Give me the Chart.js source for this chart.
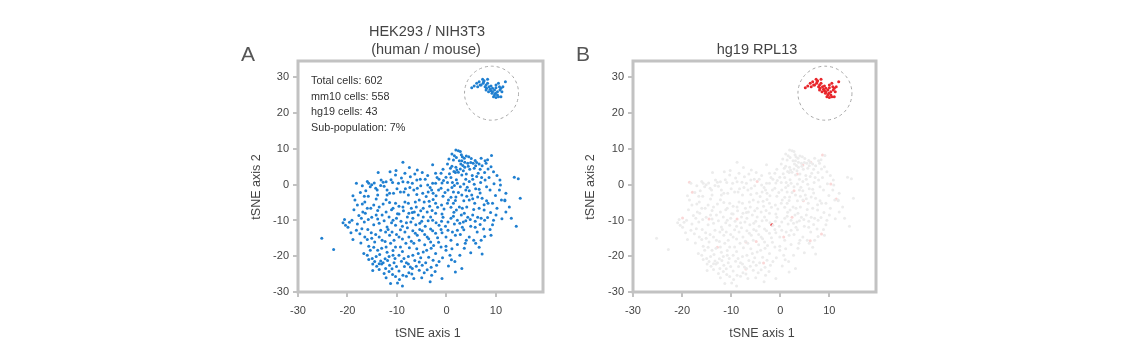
<!DOCTYPE html>
<html>
<head>
<meta charset="utf-8">
<script src="https://cdn.jsdelivr.net/npm/chart.js@4.4.1/dist/chart.umd.min.js"></script>
<style>
  html, body { margin:0; padding:0; background:#fff; width:1140px; height:355px; overflow:hidden; }
  body { position:relative; font-family:"Liberation Sans", Arial, Helvetica, sans-serif; color:#444; }
  canvas { position:absolute; top:0; }
  .t { position:absolute; white-space:nowrap; }
  .title { font-size:14.5px; line-height:18px; text-align:center; width:300px; color:#444; }
  .letter { font-size:21px; line-height:24px; color:#555; }
  .info { font-size:10.8px; line-height:15.6px; color:#333; }
  .axt { font-size:12.5px; line-height:16px; text-align:center; width:120px; color:#444; }
  .rot { transform: rotate(-90deg); transform-origin: 50% 50%; }
</style>
</head>
<body>
<canvas id="cA" width="330" height="355" style="left:230px"></canvas>
<canvas id="cB" width="330" height="355" style="left:565px"></canvas>

<div class="t letter" style="left:241px; top:42px;">A</div>
<div class="t letter" style="left:576px; top:42px;">B</div>
<div class="t title" id="titleA1" style="left:277px; top:22px;"></div>
<div class="t title" id="titleA2" style="left:276px; top:40px;"></div>
<div class="t title" id="titleB" style="left:607px; top:40px;"></div>
<div class="t info" id="infoBox" style="left:311px; top:73px;"></div>
<div class="t axt" id="axA1" style="left:368px; top:325px;"></div>
<div class="t axt" id="axB1" style="left:702px; top:325px;"></div>
<div class="t axt rot" id="axA2" style="left:196px; top:179px;"></div>
<div class="t axt rot" id="axB2" style="left:530px; top:179px;"></div>

<script>
// ---------------- DATA ----------------
const xTickValues = [-30, -20, -10, 0, 10];
const yTickValues = [-30, -20, -10, 0, 10, 20, 30];
const infoLines = ["Total cells: 602", "mm10 cells: 558", "hg19 cells: 43", "Sub-population: 7%"];
const panelTitleA = ["HEK293 / NIH3T3", "(human / mouse)"];
const panelTitleB = "hg19 RPL13";
const axisTitles = ["tSNE axis 1", "tSNE axis 2"];

// mouse (mm10) cells, tSNE coordinates [axis1, axis2]
const mm10Cells = [
 [1.9,9.7],[2.4,9.5],[2.8,9.3],[1.1,8.6],[1.6,8.1],[3.2,7.8],[4.5,7.8],[3.6,7.4],[9.1,8.2],[-8.8,6.3],
 [2.6,6.7],[3.1,6.7],[3.7,6.3],[4.3,6.0],[2.9,5.8],[3.3,5.4],[4.9,6.2],[5.4,6.0],[6.1,6.2],[6.6,5.8],
 [7.8,6.7],[8.0,6.0],[0.2,5.8],[1.1,5.2],[1.9,4.9],[2.1,4.1],[-2.8,5.6],[-5.9,4.1],[-13.8,3.4],[-11.4,3.6],
 [-10.3,2.7],[-8.4,3.2],[1.8,3.4],[2.4,3.5],[3.7,4.9],[4.7,4.3],[5.6,4.6],[6.8,4.3],[9.0,5.0],[6.4,3.2],
 [7.7,3.4],[4.0,3.0],[5.2,2.6],[3.1,2.7],[-0.7,4.3],[-1.1,3.2],[-2.2,3.2],[-0.1,2.1],[0.9,2.0],[3.9,1.5],
 [5.3,1.5],[7.8,1.3],[8.6,2.0],[10.8,1.3],[10.9,-0.1],[13.7,2.1],[14.5,1.7],
 [-18.2,0.4],[-15.7,0.4],[-15.1,0.0],[-15.4,-0.6],[-12.8,0.7],[-12.2,0.8],[-12.6,-0.4],[-14.3,-1.0],[-14.0,-1.5],[-12.0,-1.5],
 [-10.9,0.6],[-9.7,0.4],[-8.8,0.8],[-7.8,0.7],[-6.9,0.4],[-6.0,1.3],[-5.3,1.5],[-4.3,1.5],[-3.8,-0.1],[-2.8,0.4],
 [-2.2,0.4],[-1.5,1.5],[0.2,0.6],[1.2,0.6],[2.2,0.4],[2.8,-0.6],[1.1,-0.8],[0.3,-1.5],[1.4,-2.0],[2.4,-2.2],
 [3.9,-1.5],[4.6,-1.7],[5.9,-1.1],[6.6,-1.3],[8.8,-1.5],[10.7,-1.5],[12.0,-2.4],[11.8,-4.3],[12.7,-6.2],[14.9,-3.8],
 [13.1,-9.4],[14.1,-11.6],
 [-18.9,-3.1],[-17.4,-2.2],[-16.6,-3.2],[-15.8,-3.2],[-13.9,-2.9],[-12.0,-2.9],[-11.5,-2.4],[-10.7,-2.4],[-9.3,-2.0],[-8.6,-2.0],
 [-7.7,-2.9],[-6.6,-1.5],[-5.9,-1.0],[-4.8,-2.4],[-3.7,-2.0],[-3.0,-1.5],[-2.7,-2.4],[-1.6,-1.5],[-1.1,-1.0],[-0.7,-3.2],
 [0.9,-3.5],[1.9,-3.4],[3.1,-2.9],[4.1,-3.2],[5.1,-2.9],[6.3,-3.4],[7.2,-3.8],[8.1,-4.5],[8.4,-5.2],[9.3,-5.2],
 [11.1,-4.3],[11.8,-4.5],
 [-18.0,-5.7],[-17.0,-5.4],[-16.0,-6.6],[-15.3,-6.6],[-14.7,-5.7],[-13.6,-6.2],[-12.8,-5.4],[-11.5,-5.0],[-10.3,-5.2],[-9.6,-6.0],
 [-8.4,-4.8],[-7.7,-5.2],[-7.1,-6.6],[-6.3,-4.8],[-5.5,-4.3],[-4.5,-4.8],[-3.5,-4.6],[-2.7,-4.1],[-2.2,-5.2],[-1.0,-5.7],
 [0.2,-5.2],[1.4,-5.2],[2.6,-6.2],[3.2,-6.6],[4.1,-6.2],[4.6,-4.3],[5.7,-5.2],[6.6,-6.6],[7.6,-7.1],[8.9,-7.8],
 [10.0,-8.5],[9.5,-9.9],[7.7,-9.9],[7.0,-9.4],
 [-20.9,-10.6],[-20.4,-11.3],[-19.9,-11.9],[-19.1,-9.9],[-18.9,-15.3],[-18.2,-12.7],[-17.2,-9.4],[-16.4,-8.0],[-15.8,-9.7],[-15.1,-9.1],
 [-14.2,-8.5],[-13.6,-10.8],[-13.0,-8.5],[-12.2,-7.6],[-11.6,-9.0],[-10.8,-9.9],[-10.3,-11.3],[-9.6,-8.2],[-8.7,-7.3],[-7.9,-9.0],
 [-7.2,-10.4],[-6.5,-7.6],[-5.7,-8.5],[-5.4,-10.8],[-4.7,-9.0],[-3.9,-7.6],[-3.2,-9.0],[-2.8,-9.9],[-2.2,-8.0],[-1.5,-11.3],
 [-0.7,-9.1],[0.3,-10.4],[1.4,-8.8],[2.2,-9.9],[3.0,-8.5],[3.4,-10.4],[4.3,-9.1],[5.3,-8.5],[6.3,-9.1],[5.8,-11.9],
 [4.9,-11.6],[3.2,-11.9],[2.2,-12.7],[1.2,-13.2],[0.9,-15.5],[-0.1,-14.6],[-1.1,-12.5],[-2.2,-13.6],
 [-15.9,-12.5],[-15.1,-15.0],[-14.3,-13.9],[-13.3,-12.7],[-12.3,-13.2],[-13.0,-15.5],[-11.5,-14.1],[-10.6,-15.5],[-9.6,-14.6],[-8.4,-13.2],
 [-7.6,-14.6],[-6.8,-12.9],[-5.9,-14.1],[-4.9,-12.9],[-3.9,-14.6],[-3.2,-16.0],[-5.5,-15.5],[-6.6,-16.4],[-8.2,-16.4],[-9.3,-17.4],
 [-10.3,-17.4],[-11.3,-16.4],[-12.2,-17.4],[-13.1,-17.8],[-13.9,-18.3],[-14.7,-17.5],[-15.7,-17.2],[-16.0,-15.3],[-16.5,-14.6],
 [-16.7,-19.2],[-16.0,-19.7],[-15.0,-20.6],[-14.2,-20.1],[-13.3,-21.3],[-12.4,-20.7],[-11.6,-20.1],[-10.8,-19.7],[-9.6,-19.7],[-8.6,-20.6],
 [-7.7,-20.1],[-6.8,-19.7],[-5.7,-19.2],[-4.7,-18.8],[-4.0,-18.3],[-3.1,-17.8],[-2.2,-19.2],[-1.1,-17.4],[-0.1,-17.2],[0.7,-19.7],
 [1.7,-21.5],[2.7,-19.7],[3.6,-17.8],[3.8,-16.4],[4.9,-19.0],[5.9,-16.4],[7.0,-15.5],[7.2,-19.4],[9.0,-14.1],[8.8,-12.5],
 [5.5,-15.5],[4.6,-14.6],
 [-15.7,-20.9],[-14.9,-22.2],[-14.1,-22.8],[-13.1,-22.2],[-12.3,-23.4],[-11.5,-22.5],[-10.6,-21.8],[-10.1,-22.9],[-9.6,-24.1],[-8.5,-22.9],
 [-7.7,-22.2],[-6.9,-23.4],[-6.1,-22.8],[-4.9,-22.5],[-4.2,-21.8],[-3.1,-23.1],[-1.5,-21.5],[3.1,-23.4],
 [-13.6,-23.7],[-11.6,-24.3],[-10.3,-25.7],[-8.8,-25.3],[-7.6,-24.6],[-6.6,-26.2],[-5.5,-23.9],[-4.5,-24.6],[-3.0,-25.3],[-3.3,-27.1],
 [-0.9,-26.2],[-11.3,-27.6],[-8.9,-28.3],[-0.1,-18.3],
 [-25.2,-15.0],[-22.8,-18.1],
 // second reading pass (denser regions)
 [0.5,7.2],[1.4,6.9],[2.0,7.6],[3.0,8.4],[4.0,8.0],[5.0,7.3],[5.8,6.8],[7.0,7.4],[8.3,7.0],[0.8,4.6],
 [1.5,3.7],[2.8,4.4],[3.4,3.9],[4.4,5.2],[5.9,5.3],[7.2,5.3],[8.4,4.4],[9.5,3.6],[6.1,2.3],[7.1,2.0],
 [4.6,0.9],[2.0,1.4],[0.6,3.1],[-0.6,1.2],[1.6,-0.2],[3.5,0.2],[5.6,0.1],[6.9,0.6],[8.1,-0.6],[9.6,0.3],
 [10.2,2.6],[4.2,-0.7],
 [-9.1,1.9],[-7.3,2.2],[-6.4,3.0],[-4.9,3.4],[-3.8,2.6],[-1.9,2.0],[-0.9,0.5],[-3.3,-0.8],[-5.2,-0.3],[-7.4,-0.8],
 [-8.3,-1.1],[-10.0,-1.1],[-11.2,1.4],[-13.3,-0.2],[-16.3,-1.7],[-17.0,-0.3],[-6.0,-2.7],[-4.1,-3.3],[-2.1,-3.1],[-0.3,-2.2],
 [0.4,-4.3],[1.8,-4.4],[3.5,-4.5],[5.3,-3.9],[6.8,-2.3],[7.6,-5.6],[9.9,-3.0],[10.2,-6.6],[5.5,-6.9],[2.0,-7.1],
 [0.9,-6.3],[-0.5,-6.8],[-1.8,-6.3],[-3.4,-6.0],[-4.7,-6.6],[-6.1,-6.2],[-8.8,-6.2],[-10.8,-6.6],[-12.2,-4.2],[-14.2,-4.0],
 [-16.5,-4.8],[-11.1,-7.0],[-13.9,-7.2],[-16.9,-7.6],[-18.7,-7.0],
 [-19.6,-10.5],[-18.0,-11.0],[-17.1,-12.3],[-16.6,-10.4],[-14.7,-11.2],[-13.9,-9.6],[-12.6,-10.1],[-12.0,-11.8],[-11.1,-10.6],[-10.1,-9.4],
 [-9.2,-10.2],[-8.9,-11.6],[-8.1,-10.6],[-7.6,-8.0],[-6.8,-9.4],[-6.2,-11.2],[-5.0,-10.2],[-4.3,-11.6],[-3.7,-10.1],[-3.2,-12.4],
 [-2.1,-10.6],[-1.0,-10.2],[-0.2,-11.6],[0.9,-9.4],[1.6,-11.0],[2.7,-10.8],[3.9,-10.1],[4.8,-9.7],[5.8,-10.2],[6.8,-11.1],
 [7.5,-12.4],[8.3,-9.2],[9.3,-11.2],[11.2,-9.5],[12.0,-7.6],[3.6,-8.0],[1.5,-7.7],[-0.9,-8.2],[-2.9,-7.2],[-5.2,-7.3],
 [-6.9,-7.8],[-9.9,-8.1],
 [-17.5,-13.7],[-17.3,-16.3],[-15.2,-13.4],[-14.5,-16.0],[-13.6,-14.6],[-12.4,-15.9],[-11.8,-12.5],[-11.0,-13.2],[-10.1,-13.9],[-9.3,-12.6],
 [-8.9,-15.2],[-7.9,-12.0],[-7.1,-15.8],[-6.3,-13.6],[-5.4,-12.5],[-4.4,-13.9],[-3.6,-15.1],[-2.8,-12.9],[-1.8,-14.8],[-0.9,-13.4],
 [0.3,-12.7],[1.8,-14.1],[2.8,-13.9],[3.5,-12.6],[4.0,-15.5],[6.2,-13.2],[7.7,-14.5],[6.6,-17.5],[2.2,-16.7],[1.1,-17.9],
 [-1.6,-16.1],[-2.6,-17.0],[-4.4,-16.8],[-6.0,-17.9],[-7.5,-17.6],[-8.9,-18.7],[-10.8,-18.4],[-12.0,-18.9],[-13.5,-19.5],[-15.4,-18.3],
 [-14.5,-21.5],[-13.6,-22.1],[-12.8,-21.8],[-11.9,-21.2],[-11.0,-23.5],[-10.4,-20.6],[-9.1,-21.4],[-8.1,-21.8],[-7.3,-23.0],[-6.4,-21.2],
 [-5.5,-21.6],[-5.2,-20.4],[-3.6,-20.3],[-2.7,-21.1],[-2.0,-22.5],[-0.8,-20.4],[0.4,-22.7],[1.0,-21.0],[-12.6,-24.8],[-10.9,-25.1],
 [-9.5,-26.5],[-8.1,-25.6],[-7.0,-25.0],[-5.0,-26.0],[-3.9,-23.8],[-12.2,-26.0],[-9.9,-27.5],[-2.3,-24.3],[1.8,-24.4],[-14.9,-24.0],
 [-20.6,-9.7],[-19.3,-13.4],[-18.5,-4.3],[-17.7,-8.6],[-16.0,0.9],[-14.6,0.5],[-13.2,1.3],[-10.2,4.0],[-7.5,4.8]
];

// human (hg19) cells, tSNE coordinates
const hg19Cells = [
 [5.1,27.1],[6.1,28.4],[6.6,28.8],[7.3,29.5],[7.6,29.1],[6.8,27.9],[8.0,27.9],[8.3,28.4],[8.6,27.4],[8.1,27.0],
 [9.0,27.6],[9.3,27.0],[9.7,26.5],[10.0,27.1],[10.5,28.4],[10.7,27.4],[11.0,27.0],[11.4,27.4],[11.9,28.8],[10.3,26.0],
 [9.9,25.6],[9.5,24.6],[10.0,24.4],[10.5,24.6],[9.0,26.3],[8.5,26.0],[7.8,27.4],[7.4,28.4],[7.0,27.9],[6.3,27.4],
 [5.6,27.6],[9.2,25.6],[9.7,25.1],[8.8,26.7],[10.8,26.5],[10.3,25.1],[9.3,26.0],[8.0,26.5],[8.3,29.5],[7.5,28.8],
 [10.0,27.9],[11.2,26.0],[11.0,24.6]
];

// mm10 cells with low (faint) hg19 RPL13 signal
const rplLowCells = [
 [-18.5,0.7],[-17.9,-2.1],[-19.9,-9.3],[-14.5,-9.6],[-12.8,-17.5],[-7.0,-16.0],[-4.9,-15.9],[-8.8,-9.6],
 [-4.7,0.9],[2.8,-1.7],[3.5,3.0],[4.6,5.5],[6.2,6.3],[8.6,8.3],[10.3,0.2],[8.4,-13.8],[6.1,-15.7],
 [4.7,-4.5],[2.4,-9.1],[0.7,-14.6],[-7.0,-23.6],[-3.4,-21.9],[11.4,-4.0]
];
// mm10 cell with a clear hg19 RPL13 signal
const rplHighCells = [[-1.7,-11.2]];

// highlighted human sub-population circle (data centre)
const humanCircleCenter = {x: 9.1, y: 25.6};

// ---------------- TEXT ----------------
document.getElementById('infoBox').innerHTML = infoLines.map(s => '<div>' + s + '</div>').join('');
document.getElementById('titleA1').textContent = panelTitleA[0];
document.getElementById('titleA2').textContent = panelTitleA[1];
document.getElementById('titleB').textContent = panelTitleB;
document.getElementById('axA1').textContent = axisTitles[0];
document.getElementById('axB1').textContent = axisTitles[0];
document.getElementById('axA2').textContent = axisTitles[1];
document.getElementById('axB2').textContent = axisTitles[1];

// ---------------- CHARTS ----------------
Chart.defaults.font.family = '"Liberation Sans", Arial, Helvetica, sans-serif';
Chart.defaults.color = '#444';

const toPts = arr => arr.map(p => ({x: p[0], y: p[1]}));

const framePlugin = {
  id: 'frame',
  beforeDatasetsDraw(chart) {
    const {ctx, chartArea: a} = chart;
    ctx.save();
    ctx.strokeStyle = '#c2c2c2';
    ctx.lineWidth = 3;
    ctx.strokeRect(a.left, a.top, a.right - a.left, a.bottom - a.top);
    const cx = chart.scales.x.getPixelForValue(humanCircleCenter.x);
    const cy = chart.scales.y.getPixelForValue(humanCircleCenter.y);
    ctx.strokeStyle = '#a8a8a8';
    ctx.lineWidth = 1;
    ctx.setLineDash([3, 3]);
    ctx.beginPath();
    ctx.arc(cx, cy, 27, 0, Math.PI * 2);
    ctx.stroke();
    ctx.restore();
  }
};

function makeScales() {
  return {
    x: {
      type: 'linear', min: -30, max: 19.5,
      afterBuildTicks: s => { s.ticks = xTickValues.map(v => ({value: v})); },
      afterFit: s => { s.height = 63; },
      grid: { display: true, drawOnChartArea: false, drawTicks: true, tickLength: 5, color: '#c2c2c2', lineWidth: 2 },
      border: { display: false },
      ticks: { font: { size: 11 }, color: '#444', padding: 7, maxRotation: 0 },
      title: { display: false }
    },
    y: {
      type: 'linear', min: -30, max: 34.6,
      afterBuildTicks: s => { s.ticks = yTickValues.map(v => ({value: v})); },
      afterFit: s => { s.width = 68; },
      grid: { display: true, drawOnChartArea: false, drawTicks: true, tickLength: 5, color: '#c2c2c2', lineWidth: 2 },
      border: { display: false },
      ticks: { font: { size: 11 }, color: '#444', padding: 4 },
      title: { display: false }
    }
  };
}

function baseOptions(rightPad) {
  return {
    responsive: false, animation: false, devicePixelRatio: 1,
    layout: { padding: { left: 0, top: 61, right: rightPad, bottom: 0 } },
    plugins: { legend: { display: false }, tooltip: { enabled: false }, title: { display: false } },
    scales: makeScales()
  };
}

new Chart(document.getElementById('cA'), {
  type: 'scatter',
  data: { datasets: [
    { label: 'mm10', data: toPts(mm10Cells), pointRadius: 1.5, pointBorderWidth: 0, backgroundColor: '#1f7fd0' },
    { label: 'hg19', data: toPts(hg19Cells), pointRadius: 1.5, pointBorderWidth: 0, backgroundColor: '#1f7fd0' }
  ]},
  options: baseOptions(17),
  plugins: [framePlugin]
});

new Chart(document.getElementById('cB'), {
  type: 'scatter',
  data: { datasets: [
    { label: 'mm10', data: toPts(mm10Cells), pointRadius: 1.5, pointBorderWidth: 0, backgroundColor: '#ececec' },
    { label: 'low', data: toPts(rplLowCells), pointRadius: 1.5, pointBorderWidth: 0, backgroundColor: 'rgba(240,140,140,0.35)' },
    { label: 'high', data: toPts(rplHighCells), pointRadius: 1.6, pointBorderWidth: 0, backgroundColor: '#e8262b' },
    { label: 'hg19', data: toPts(hg19Cells), pointRadius: 1.5, pointBorderWidth: 0, backgroundColor: '#e8262b' }
  ]},
  options: baseOptions(19),
  plugins: [framePlugin]
});
</script>
</body>
</html>
